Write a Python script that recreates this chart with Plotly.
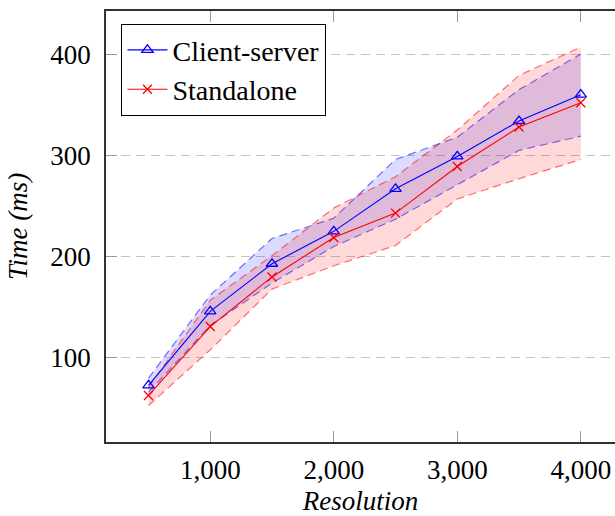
import plotly.graph_objects as go

# Rendering time vs. resolution for the two deployment modes
resolution = [500, 1000, 1500, 2000, 2500, 3000, 3500, 4000]

client_server_mean = [73, 146, 193, 225, 267, 299, 334, 360]
client_server_upper = [80, 162, 218, 238, 296, 318, 365, 400]
client_server_lower = [66, 132, 174, 210, 237, 271, 305, 319]

standalone_mean = [63, 131, 180, 219, 243, 289, 328, 352]
standalone_upper = [71, 157, 201, 248, 279, 325, 379, 407]
standalone_lower = [53, 108, 168, 191, 211, 257, 277, 296]

x_ticks = [1000, 2000, 3000, 4000]
y_ticks = [100, 200, 300, 400]

BLUE = "rgb(0,0,255)"
RED = "rgb(255,0,0)"
FONT = "Liberation Serif, Times New Roman, serif"

fig = go.Figure()

# Shaded spread bands with dashed borders
bands = [
    (client_server_upper, client_server_lower, "rgba(0,0,255,0.55)", "rgba(0,0,255,0.14)"),
    (standalone_upper, standalone_lower, "rgba(255,0,0,0.55)", "rgba(255,0,0,0.15)"),
]
for upper, lower, edge, fillc in bands:
    fig.add_trace(go.Scatter(
        x=resolution, y=upper, mode="lines",
        line=dict(color=edge, width=1.2, dash="8px,5px"),
        showlegend=False, hoverinfo="skip",
    ))
    fig.add_trace(go.Scatter(
        x=resolution, y=lower, mode="lines",
        line=dict(color=edge, width=1.2, dash="8px,5px"),
        fill="tonexty", fillcolor=fillc,
        showlegend=False, hoverinfo="skip",
    ))

# Mean curves
fig.add_trace(go.Scatter(
    x=resolution, y=client_server_mean, mode="lines+markers",
    name="Client-server",
    line=dict(color=BLUE, width=1.1),
    marker=dict(symbol="triangle-up-open", size=10, color=BLUE, line=dict(width=1.3, color=BLUE)),
))
fig.add_trace(go.Scatter(
    x=resolution, y=standalone_mean, mode="lines+markers",
    name="Standalone",
    line=dict(color=RED, width=1.1),
    marker=dict(symbol="x-thin-open", size=9, color=RED, line=dict(width=1.3, color=RED)),
))

fig.update_layout(
    width=615, height=516,
    margin=dict(l=106, r=0, t=11, b=74),
    plot_bgcolor="white", paper_bgcolor="white",
    font=dict(family=FONT, size=27, color="black"),
    showlegend=True,
    legend=dict(
        x=0.03, y=0.97, xanchor="left", yanchor="top",
        traceorder="normal",
        bgcolor="white", bordercolor="black", borderwidth=1.2,
        font=dict(family=FONT, size=28, color="black"),
        tracegroupgap=0, itemwidth=40,
    ),
)

fig.update_xaxes(
    range=[156, 4277],
    tickvals=x_ticks, tickformat=",",
    tickfont=dict(family=FONT, size=27, color="black"),
    ticks="inside", ticklen=11, tickcolor="#999999", tickwidth=1.3,
    showline=True, linecolor="#333333", linewidth=1.5, mirror="ticks",
    showgrid=False, zeroline=False,
    ticklabelstandoff=3,
    title=dict(text="<i>Resolution</i>", font=dict(family=FONT, size=27, color="black"), standoff=12),
)
fig.update_yaxes(
    range=[17, 442.6],
    tickvals=y_ticks,
    tickfont=dict(family=FONT, size=27, color="black"),
    ticks="inside", ticklen=11, tickcolor="#999999", tickwidth=1.3,
    showline=True, linecolor="#333333", linewidth=1.5, mirror=False,
    showgrid=True, gridcolor="#c4c4c4", gridwidth=1.3, griddash="9px,6px",
    zeroline=False,
    ticklabelstandoff=8,
    title=dict(text="<i>Time (ms)</i>", font=dict(family=FONT, size=27, color="black"), standoff=15),
)

fig.write_html("out.html")
